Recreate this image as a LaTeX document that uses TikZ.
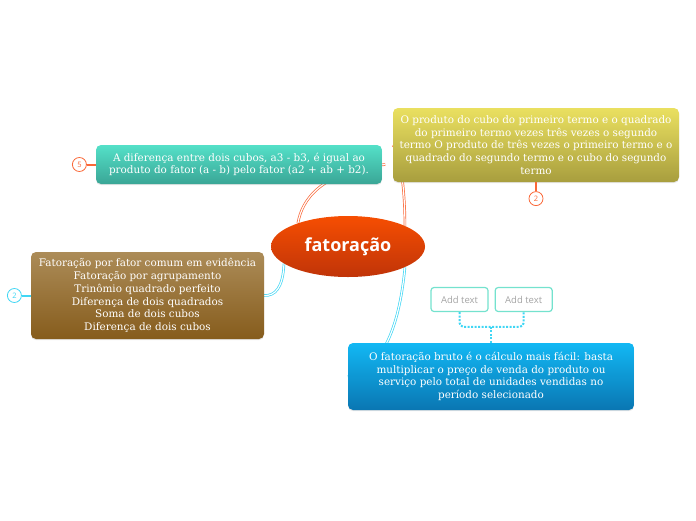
\documentclass[tikz,border=0pt]{standalone}
\usepackage{fontspec}
\setmainfont{DejaVu Serif}
\newfontfamily\titlefont{Open Sans}
\usetikzlibrary{positioning,shapes,shadows,calc}
\definecolor{tealtop}{RGB}{84,224,200}
\definecolor{tealbot}{RGB}{58,166,150}
\definecolor{olivetop}{RGB}{234,224,96}
\definecolor{olivebot}{RGB}{168,158,62}
\definecolor{browntop}{RGB}{172,140,88}
\definecolor{brownbot}{RGB}{134,92,28}
\definecolor{bluetop}{RGB}{18,184,244}
\definecolor{bluebot}{RGB}{10,118,178}
\definecolor{hubtop}{RGB}{246,78,2}
\definecolor{hubbot}{RGB}{192,52,8}
\definecolor{linkred}{RGB}{250,104,56}
\definecolor{linkcyan}{RGB}{64,214,244}
\definecolor{notegreen}{RGB}{116,226,206}
\definecolor{notegray}{RGB}{165,165,165}
\pgfdeclarelayer{back}
\pgfsetlayers{back,main}
\tikzset{
  root/.style={ellipse, top color=hubtop, bottom color=hubbot, text=white,
    minimum width=154pt, minimum height=61pt, inner sep=0pt,
    font=\titlefont\bfseries\fontsize{18}{21}\selectfont},
  topic/.style={rounded corners=5pt, align=center, text=white, inner sep=0pt,
    font=\fontsize{10.4}{12.8}\selectfont,
    drop shadow={shadow xshift=0pt, shadow yshift=-1.2pt, opacity=0.2}},
  branch/.style={draw=#1, line width=0.7pt, double=white, double distance=1.2pt},
  stub/.style={draw=#1, line width=2pt},
  tag/.style={circle, draw=#1, text=#1, fill=white, line width=0.8pt,
    minimum size=14pt, inner sep=0pt, font=\titlefont\fontsize{7.5}{8}\selectfont},
  addbox/.style={draw=notegreen, line width=1.2pt, rounded corners=3pt, fill=white,
    text=notegray, minimum height=24pt, minimum width=57pt, inner xsep=4pt,
    font=\titlefont\fontsize{9.5}{11}\selectfont},
  hint/.style={draw=linkcyan, line width=2pt, dash pattern=on 2pt off 1.5pt, rounded corners=4pt}
}
\begin{document}
\begin{tikzpicture}[x=1pt, y=-1pt, node distance=9pt]
  \useasboundingbox (0,0) rectangle (696,520);
  \node[root] (hub) at (348,246.5) {fatoração};
  \node[topic, top color=tealtop, bottom color=tealbot, minimum width=286pt, minimum height=39pt] (n1) at (239,164.5)
    {A diferença entre dois cubos, a3 - b3, é igual ao\\produto do fator (a - b) pelo fator (a2 + ab + b2).};
  \node[topic, top color=olivetop, bottom color=olivebot, minimum width=286pt, minimum height=74pt] (n2) at (536,145)
    {O produto do cubo do primeiro termo e o quadrado\\do primeiro termo vezes três vezes o segundo\\termo O produto de três vezes o primeiro termo e o\\quadrado do segundo termo e o cubo do segundo\\termo};
  \node[topic, top color=browntop, bottom color=brownbot, minimum width=233pt, minimum height=87pt] (n3) at (147.5,295.5)
    {Fatoração por fator comum em evidência\\Fatoração por agrupamento\\Trinômio quadrado perfeito\\Diferença de dois quadrados\\Soma de dois cubos\\Diferença de dois cubos};
  \node[topic, top color=bluetop, bottom color=bluebot, minimum width=286pt, minimum height=67pt] (n4) at (491,376.5)
    {O fatoração bruto é o cálculo mais fácil: basta\\multiplicar o preço de venda do produto ou\\serviço pelo total de unidades vendidas no\\período selecionado};
  \node[tag=linkred, left=of n1] (m1) {5};
  \node[tag=linkred, below=of n2] (m2) {2};
  \node[tag=linkcyan, left=of n3] (m3) {2};
  \node[addbox] (a1) at (459.5,299.5) {Add text};
  \node[addbox, right=6pt of a1] (a2) {Add text};
  \coordinate (j1) at ([yshift=16pt]n4.north);

  \begin{pgfonlayer}{back}
    \draw[branch=linkred] (hub.155) .. controls (302,200) and (320,172) .. ([xshift=3pt]n1.east);
    \draw[branch=linkred] (hub.20) .. controls (405,190) and (400,150) .. (n2.west);
    \draw[branch=linkcyan] (hub.-165) .. controls (283,288) and (275,296) .. (n3.east);
    \draw[branch=linkcyan] (hub.-20) .. controls (400,320) and (385,370) .. (n4.west);
  \end{pgfonlayer}
  \draw[stub=linkred] (m1) -- (n1);
  \draw[stub=linkred] (m2) -- (n2);
  \draw[stub=linkcyan] (m3) -- (n3);
  \draw[hint] (a1.south) |- (j1) -| (a2.south);
  \draw[hint] (j1) -- (n4.north);
\end{tikzpicture}
\end{document}
